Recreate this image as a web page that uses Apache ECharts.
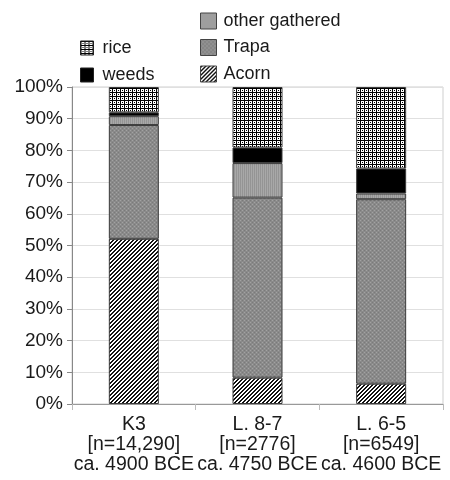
<!DOCTYPE html>
<html>
<head>
<meta charset="utf-8">
<script src="https://cdn.jsdelivr.net/npm/echarts@6/dist/echarts.min.js"></script>
<style>
html,body{margin:0;padding:0;background:#fff;}
#chart{width:450px;height:480px;}
</style>
</head>
<body>
<div id="chart"></div>
<script>
const categories = ['K3\n[n=14,290]\nca. 4900 BCE', 'L. 8-7\n[n=2776]\nca. 4750 BCE', 'L. 6-5\n[n=6549]\nca. 4600 BCE'];
const acorn = [52.1, 8.3, 6.4];
const trapa = [35.9, 56.8, 58.2];
const otherGathered = [2.8, 10.9, 1.8];
const weeds = [1.2, 4.9, 7.9];
const rice = [8.0, 19.1, 25.7];
const yTicks = [0, 10, 20, 30, 40, 50, 60, 70, 80, 90, 100];

function makeTile(w, h, drawFn) {
  const c = document.createElement('canvas');
  c.width = w; c.height = h;
  const ctx = c.getContext('2d');
  drawFn(ctx);
  return { image: c, repeat: 'repeat' };
}
const ricePat = makeTile(4, 4, ctx => {
  ctx.fillStyle = '#fff'; ctx.fillRect(0, 0, 4, 4);
  ctx.fillStyle = '#000';
  ctx.fillRect(0, 0, 4, 1);
  ctx.fillRect(0, 0, 1, 4);
  ctx.fillRect(2, 2, 1, 1);
});
const acornPat = makeTile(4, 4, ctx => {
  ctx.fillStyle = '#fff'; ctx.fillRect(0, 0, 4, 4);
  ctx.fillStyle = '#111';
  for (let x = 0; x < 4; x++) for (let y = 0; y < 4; y++) {
    if ((x + y) % 4 < 2) ctx.fillRect(x, y, 1, 1);
  }
});
const trapaPat = makeTile(4, 4, ctx => {
  ctx.fillStyle = '#8a8a8a'; ctx.fillRect(0, 0, 4, 4);
  ctx.fillStyle = '#a2a2a2';
  ctx.fillRect(0, 0, 1, 1);
  ctx.fillRect(2, 2, 1, 1);
  ctx.fillStyle = '#7a7a7a';
  ctx.fillRect(2, 0, 1, 1);
  ctx.fillRect(0, 2, 1, 1);
});
const otherPat = makeTile(2, 1, ctx => {
  ctx.fillStyle = '#949494'; ctx.fillRect(0, 0, 1, 1);
  ctx.fillStyle = '#a8a8a8'; ctx.fillRect(1, 0, 1, 1);
});

const FONT = 'Liberation Sans, Arial, sans-serif';
function bar(name, data, color) {
  return {
    name, type: 'bar', stack: 'all', data, barWidth: 50,
    itemStyle: { color, borderColor: '#3a3a3a', borderWidth: 1 },
    emphasis: { disabled: true }
  };
}

const legendText = { fontSize: 18, color: '#1a1a1a', fontFamily: FONT, padding: [0, 0, 0, 3] };
const chart = echarts.init(document.getElementById('chart'), null, { renderer: 'canvas' });
chart.setOption({
  animation: false,
  backgroundColor: '#fff',
  textStyle: { fontFamily: FONT },
  grid: { left: 72, right: 7, top: 87, bottom: 76, show: true, borderColor: '#cfcfcf', borderWidth: 1, containLabel: false },
  legend: [
    {
      data: ['rice', 'weeds'], orient: 'vertical', left: 75, top: 34,
      icon: 'rect', itemWidth: 13, itemHeight: 14, itemGap: 9, selectedMode: false,
      itemStyle: { borderColor: '#222', borderWidth: 1 },
      textStyle: Object.assign({}, legendText, { padding: [0, 0, 0, 4] })
    },
    {
      data: ['other gathered', 'Trapa', 'Acorn'], orient: 'vertical', left: 195, top: 7,
      icon: 'rect', itemWidth: 16, itemHeight: 16, itemGap: 8.5, selectedMode: false,
      itemStyle: { borderColor: '#444', borderWidth: 1 },
      textStyle: Object.assign({}, legendText, { padding: [0, 0, 0, 2] })
    }
  ],
  xAxis: {
    type: 'category', data: categories,
    axisLine: { lineStyle: { color: '#999' } },
    axisTick: { show: true, length: 6, lineStyle: { color: '#bbb' } },
    axisLabel: { margin: 11, fontSize: 19.5, lineHeight: 20, color: '#1a1a1a', fontFamily: FONT, interval: 0 }
  },
  yAxis: {
    type: 'value', min: 0, max: 100, interval: 10,
    axisLine: { show: true, lineStyle: { color: '#888' } },
    axisTick: { show: true, length: 5, lineStyle: { color: '#888' } },
    splitLine: { lineStyle: { color: '#e0e0e0' } },
    axisLabel: {
      fontSize: 19, color: '#1a1a1a', fontFamily: FONT, margin: 9,
      formatter: v => (yTicks.indexOf(v) >= 0 ? v + '%' : '')
    }
  },
  series: [
    bar('Acorn', acorn, acornPat),
    bar('Trapa', trapa, trapaPat),
    bar('other gathered', otherGathered, otherPat),
    bar('weeds', weeds, '#000'),
    bar('rice', rice, ricePat)
  ]
});
</script>
</body>
</html>
